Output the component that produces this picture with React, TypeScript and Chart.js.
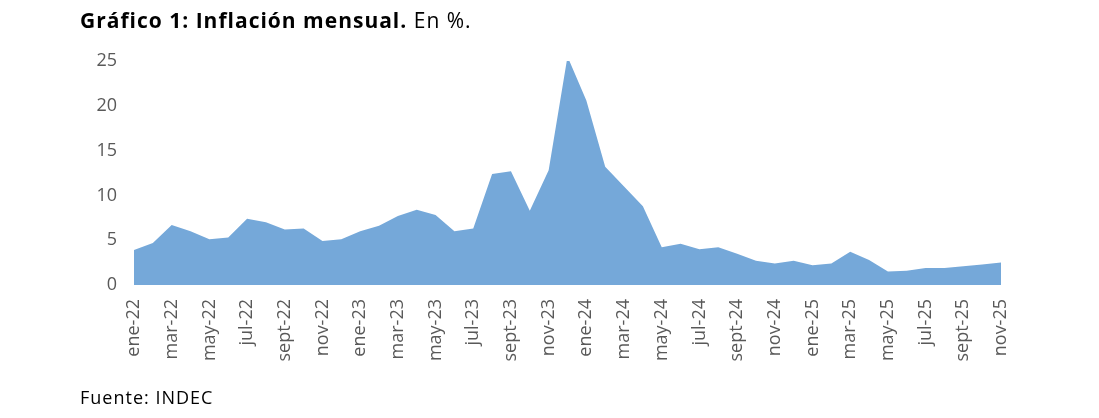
import React, { useEffect, useRef } from 'react';
import Chart from 'chart.js/auto';

// --- Data (INDEC, inflación mensual %) ---
const months = [
  'ene-22', 'feb-22', 'mar-22', 'abr-22', 'may-22', 'jun-22', 'jul-22', 'ago-22', 'sept-22', 'oct-22', 'nov-22', 'dic-22',
  'ene-23', 'feb-23', 'mar-23', 'abr-23', 'may-23', 'jun-23', 'jul-23', 'ago-23', 'sept-23', 'oct-23', 'nov-23', 'dic-23',
  'ene-24', 'feb-24', 'mar-24', 'abr-24', 'may-24', 'jun-24', 'jul-24', 'ago-24', 'sept-24', 'oct-24', 'nov-24', 'dic-24',
  'ene-25', 'feb-25', 'mar-25', 'abr-25', 'may-25', 'jun-25', 'jul-25', 'ago-25', 'sept-25', 'oct-25', 'nov-25',
];

const inflation = [
  3.9, 4.7, 6.7, 6.0, 5.1, 5.3, 7.4, 7.0, 6.2, 6.3, 4.9, 5.1,
  6.0, 6.6, 7.7, 8.4, 7.8, 6.0, 6.3, 12.4, 12.7, 8.3, 12.8, 25.5,
  20.6, 13.2, 11.0, 8.8, 4.2, 4.6, 4.0, 4.2, 3.5, 2.7, 2.4, 2.7,
  2.2, 2.4, 3.7, 2.8, 1.5, 1.6, 1.9, 1.9, 2.1, 2.3, 2.5,
];

const yTicks = [0, 5, 10, 15, 20, 25];

const FONT = '"Open Sans", "DejaVu Sans", sans-serif';
const TICK_COLOR = '#595959';
const FILL = '#75A8D9';

export default function App() {
  const canvasRef = useRef<HTMLCanvasElement | null>(null);
  const chartRef = useRef<Chart | null>(null);

  useEffect(() => {
    if (!canvasRef.current) return;
    if (chartRef.current) chartRef.current.destroy();

    chartRef.current = new Chart(canvasRef.current, {
      type: 'line',
      data: {
        labels: months,
        datasets: [{
          data: inflation,
          fill: 'origin',
          backgroundColor: FILL,
          borderWidth: 0,
          pointRadius: 0,
          tension: 0,
        }],
      },
      options: {
        animation: false,
        responsive: false,
        maintainAspectRatio: false,
        layout: { padding: { top: 61, right: 98, bottom: 0, left: 0 } },
        plugins: { legend: { display: false }, tooltip: { enabled: false } },
        scales: {
          x: {
            offset: false,
            grid: { display: false, drawTicks: false },
            border: { display: false },
            ticks: {
              autoSkip: false,
              maxRotation: 90,
              minRotation: 90,
              padding: 14,
              color: TICK_COLOR,
              font: { family: FONT, size: 18 },
              callback: (_v, i) => (i % 2 === 0 ? months[i] : ''),
            },
            afterFit: (scale) => { scale.height = 133; },
          },
          y: {
            min: 0,
            max: 25,
            afterBuildTicks: (scale) => { scale.ticks = yTicks.map((v) => ({ value: v })); },
            grid: { display: false, drawTicks: false },
            border: { display: false },
            ticks: {
              padding: 17,
              color: TICK_COLOR,
              font: { family: FONT, size: 18 },
            },
            afterFit: (scale) => { scale.width = 134; },
          },
        },
      },
    });

    return () => {
      if (chartRef.current) {
        chartRef.current.destroy();
        chartRef.current = null;
      }
    };
  }, []);

  return (
    <div style={{ position: 'fixed', left: 0, top: 0, width: 1099, height: 418, background: '#fff', fontFamily: FONT }}>
      <canvas ref={canvasRef} width={1099} height={418} style={{ position: 'absolute', left: 0, top: 0 }} />
      <div style={{ position: 'absolute', left: 80, top: 6, fontSize: 21, letterSpacing: 1, color: '#000', whiteSpace: 'nowrap' }}>
        <b>Gráfico 1: Inflación mensual.</b> En %.
      </div>
      <div style={{ position: 'absolute', left: 80, top: 385, fontSize: 18, letterSpacing: 1, color: '#000', whiteSpace: 'nowrap' }}>
        Fuente: INDEC
      </div>
    </div>
  );
}
